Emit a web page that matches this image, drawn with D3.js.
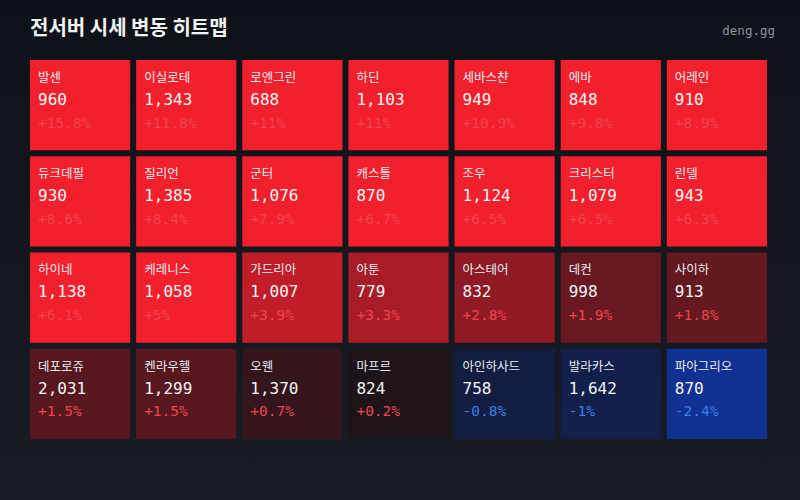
<!DOCTYPE html>
<html>
<head>
<meta charset="utf-8">
<script src="https://cdn.jsdelivr.net/npm/d3@7"></script>
<style>
  html, body { margin: 0; padding: 0; background: #0d1117; }
  svg { display: block; }
</style>
</head>
<body>
<svg id="heat"></svg>
<script>
var servers = [
  "발센", "이실로테", "로엔그린", "하딘", "세바스챤", "에바", "어레인",
  "듀크데필", "질리언", "군터", "캐스톨", "조우", "크리스터", "린델",
  "하이네", "케레니스", "가드리아", "아툰", "아스테어", "데컨", "사이하",
  "데포로쥬", "켄라우헬", "오웬", "마프르", "아인하사드", "발라카스", "파아그리오"
];
var prices = [
  960, 1343, 688, 1103, 949, 848, 910,
  930, 1385, 1076, 870, 1124, 1079, 943,
  1138, 1058, 1007, 779, 832, 998, 913,
  2031, 1299, 1370, 824, 758, 1642, 870
];
var changes = [
  15.8, 11.8, 11, 11, 10.9, 9.8, 8.9,
  8.6, 8.4, 7.9, 6.7, 6.5, 6.5, 6.3,
  6.1, 5, 3.9, 3.3, 2.8, 1.9, 1.8,
  1.5, 1.5, 0.7, 0.2, -0.8, -1, -2.4
];

var width = 800, height = 500;
var cols = 7, rows = 4;

var svg = d3.select("#heat")
  .attr("width", width)
  .attr("height", height);

// background
var grad = svg.append("defs").append("linearGradient")
  .attr("id", "bg")
  .attr("x1", 0).attr("y1", 0).attr("x2", 0).attr("y2", 1);
grad.append("stop").attr("offset", "0%").attr("stop-color", "#0d1117");
grad.append("stop").attr("offset", "100%").attr("stop-color", "#181c24");
svg.append("rect")
  .attr("width", width)
  .attr("height", height)
  .attr("fill", "url(#bg)");

svg.append("text")
  .attr("x", 30)
  .attr("y", 35)
  .attr("fill", "#f0f3f6")
  .style("font-family", "'Noto Sans CJK KR', sans-serif")
  .style("font-size", "20px")
  .style("font-weight", "bold")
  .text("전서버 시세 변동 히트맵");

svg.append("text")
  .attr("x", 775)
  .attr("y", 35)
  .attr("fill", "#8b949e")
  .style("text-anchor", "end")
  .style("font-family", "'DejaVu Sans Mono', monospace")
  .style("font-size", "12.5px")
  .text("deng.gg");

var data = servers.map((s, i) => ({
  name: s,
  price: prices[i],
  change: changes[i],
  col: i % cols,
  row: Math.floor(i / cols)
}));

var xScale = d3.scaleBand()
  .domain(d3.range(cols))
  .range([30, 767])
  .paddingInner(0.056);

var yScale = d3.scaleBand()
  .domain(d3.range(rows))
  .range([60, 439])
  .paddingInner(0.062);

// diverging: blue below 0, red above, saturates at +5%
var color = d3.scaleLinear()
  .domain([-3, 0, 5])
  .range(["#0f38b0", "#141318", "#f2202d"])
  .clamp(true);

var fmtPrice = d3.format(",");
var fmtChange = d => (d > 0 ? "+" : d < 0 ? "-" : "") + Math.abs(d) + "%";

var cell = svg.selectAll(".cell")
  .data(data)
  .enter()
  .append("g")
  .classed("cell", true)
  .attr("transform", d => "translate(" + xScale(d.col) + "," + yScale(d.row) + ")");

cell.append("rect")
  .attr("width", xScale.bandwidth())
  .attr("height", yScale.bandwidth())
  .attr("fill", d => color(d.change));

cell.append("text")
  .attr("x", 8)
  .attr("y", 22)
  .attr("fill", "#e6edf3")
  .style("font-family", "'Noto Sans CJK KR', sans-serif")
  .style("font-size", "12.5px")
  .text(d => d.name);

cell.append("text")
  .attr("x", 8)
  .attr("y", 45)
  .attr("fill", "#f3f4f6")
  .style("font-family", "'DejaVu Sans Mono', monospace")
  .style("font-size", "16px")
  .text(d => fmtPrice(d.price));

cell.append("text")
  .attr("x", 8)
  .attr("y", 67.5)
  .attr("fill", d => d.change >= 0 ? "#f0434f" : "#3b7ee6")
  .style("font-family", "'DejaVu Sans Mono', monospace")
  .style("font-size", "14.5px")
  .text(d => fmtChange(d.change));
</script>
</body>
</html>
